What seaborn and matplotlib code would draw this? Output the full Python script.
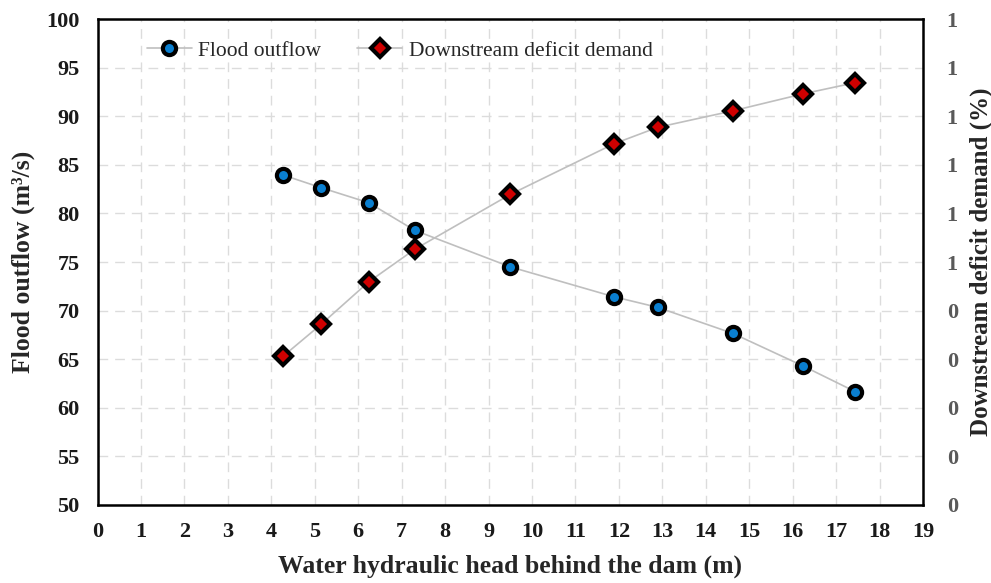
import numpy as np
import pandas as pd
import matplotlib
matplotlib.use("Agg")
import matplotlib.pyplot as plt
from matplotlib.ticker import FixedLocator, FuncFormatter
import seaborn as sns

# ---- data ----
head_m = [4.27, 5.15, 6.24, 7.30, 9.50, 11.88, 12.89, 14.62, 16.24, 17.44]
flood_outflow = [83.95, 82.64, 81.1, 78.26, 74.5, 71.43, 70.34, 67.66, 64.3, 61.66]
deficit_demand = [0.306, 0.372, 0.459, 0.526, 0.639, 0.743, 0.777, 0.811, 0.846, 0.869]

x_ticks = list(range(0, 20))
left_ticks = list(range(50, 101, 5))
right_ticks = [0.0, 0.1, 0.2, 0.3, 0.4, 0.5, 0.6, 0.7, 0.8, 0.9, 1.0]

df = pd.DataFrame({"head": head_m, "flood": flood_outflow, "deficit": deficit_demand})

sns.set_style("white")
plt.rcParams["font.family"] = ["Liberation Serif", "DejaVu Serif"]

fig = plt.figure(figsize=(9.91, 5.83), dpi=100)
ax = fig.add_axes([0.0984, 0.1338, 0.9314 - 0.0984, 0.9674 - 0.1338])
ax2 = ax.twinx()

line_col = "#bfbfbf"
blue = "#0a7fd0"
red = "#d00000"
sns.lineplot(data=df, x="head", y="flood", ax=ax, color=line_col, linewidth=1.2,
             marker="o", markersize=9.5, markerfacecolor=blue,
             markeredgecolor="black", markeredgewidth=3.0, label="Flood outflow",
             legend=False, zorder=3)
sns.lineplot(data=df, x="head", y="deficit", ax=ax2, color=line_col, linewidth=1.2,
             marker="D", markersize=9, markerfacecolor=red,
             markeredgecolor="black", markeredgewidth=3.0, label="Downstream deficit demand",
             legend=False, zorder=3)

for ln in ax.lines + ax2.lines:
    ln.set_markeredgecolor("black")
ax.lines[0].set_markerfacecolor(blue)
ax2.lines[0].set_markerfacecolor(red)

ax.set_xlim(0, 19)
ax.set_ylim(50, 100)
ax2.set_ylim(0, 1.0)
ax.xaxis.set_major_locator(FixedLocator(x_ticks))
ax.yaxis.set_major_locator(FixedLocator(left_ticks))
ax2.yaxis.set_major_locator(FixedLocator(right_ticks))
ax2.yaxis.set_major_formatter(FuncFormatter(lambda v, p: str(int(np.floor(v + 0.5 + 1e-9)))))

ax.grid(True, which="major", color="#dcdcdc", linestyle=(0, (7, 5)), linewidth=1.0)
ax.set_axisbelow(True)
ax2.grid(False)

for a in (ax, ax2):
    for s in a.spines.values():
        s.set_visible(False)
for side in ("left", "bottom", "top", "right"):
    ax.spines[side].set_visible(True)
    ax.spines[side].set_color("black")
    ax.spines[side].set_linewidth(1.8)

ax.tick_params(axis="x", length=0, labelsize=16, pad=12)
ax.tick_params(axis="y", length=0, labelsize=16, pad=13)
ax.tick_params(axis="both", labelcolor="#1a1a1a")
ax2.tick_params(axis="y", length=0, labelsize=16, pad=17, labelcolor="#595959")
for lab in ax.get_xticklabels() + ax.get_yticklabels() + ax2.get_yticklabels():
    lab.set_fontweight("bold")

ax.set_xlabel("Water hydraulic head behind the dam (m)", fontsize=18.5, fontweight="bold", labelpad=9)
ax.set_ylabel("Flood outflow (m³/s)", fontsize=18.5, fontweight="bold", labelpad=8)
ax2.set_ylabel("Downstream deficit demand (%)", fontsize=18, fontweight="bold")
ax2.yaxis.set_label_coords((981 - 97.5) / (923 - 97.5), 0.5)
ax2.yaxis.label.set_verticalalignment("center")
ax2.yaxis.label.set_horizontalalignment("center")

handles = [ax.lines[0], ax2.lines[0]]
labels = ["Flood outflow", "Downstream deficit demand"]
ax.legend(handles, labels, loc="upper left", bbox_to_anchor=(0.044, 0.982), ncol=2,
          frameon=False, fontsize=15.5, handlelength=2.1, columnspacing=1.65,
          handletextpad=0.3, borderaxespad=0.2)

fig.savefig("out.png", dpi=100)
